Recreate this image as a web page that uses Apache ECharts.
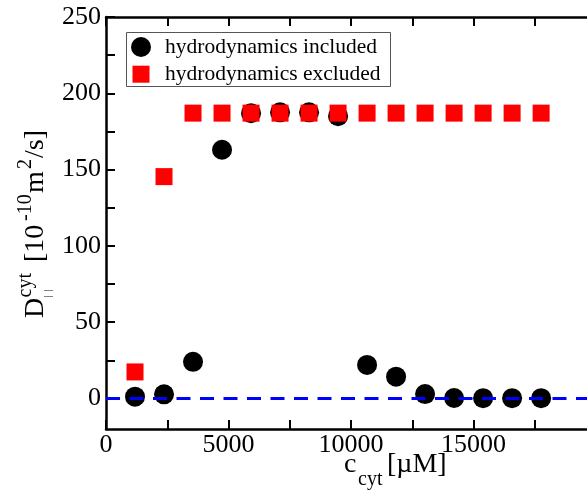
<!DOCTYPE html>
<html>
<head>
<meta charset="utf-8">
<script src="https://cdn.jsdelivr.net/npm/echarts@6/dist/echarts.min.js"></script>
<style>
  html, body { margin: 0; padding: 0; background: #fff; }
  #chart { width: 587px; height: 491px; }
</style>
</head>
<body>
<div id="chart"></div>
<script>
// Cytoplasmic concentration (µM) of each simulation
const concentration = [1184, 2368, 3552, 4736, 5920, 7104, 8288, 9472, 10656, 11840, 13024, 14208, 15392, 16576, 17760];
// Parallel diffusion coefficient, 10^-10 m^2/s
const withHydro = [1.2, 2.7, 24, 163, 187, 187.5, 187.5, 185, 22, 14.3, 2.9, 0.3, 0.2, 0.2, 0.2];
const withoutHydro = [17.4, 145.4, 187, 187, 187, 187, 187, 187, 187, 187, 187, 187, 187, 187, 187];
// Zero reference line
const zeroLine = [[0, 0], [20000, 0]];

const seriesNames = ['hydrodynamics included', 'hydrodynamics excluded'];

// Axis ticks and labels
const xTicks = [0, 2500, 5000, 7500, 10000, 12500, 15000, 17500, 20000];
const xLabels = [0, 5000, 10000, 15000];
const yTicks = [0, 25, 50, 75, 100, 125, 150, 175, 200, 225, 250];
const yLabels = [0, 50, 100, 150, 200, 250];

const SERIF = '"Liberation Serif", "Times New Roman", serif';

const pairs = (xs, ys) => xs.map((x, i) => [x, ys[i]]);

const axisLine = { show: true, onZero: false, lineStyle: { color: '#000', width: 2.5 } };
const tick = (values) => ({ show: true, inside: true, length: 9, customValues: values, lineStyle: { color: '#000', width: 2 } });
const plain = (v) => String(v);

const chart = echarts.init(document.getElementById('chart'), null, { renderer: 'canvas' });

// helper for pieces of axis titles
function txt(text, x, y, size) {
  return {
    type: 'text', x: x, y: y,
    style: { text: text, fontFamily: SERIF, fontSize: size, fill: '#000', align: 'left', verticalAlign: 'middle' }
  };
}

chart.setOption({
  animation: false,
  backgroundColor: '#fff',
  textStyle: { fontFamily: SERIF, color: '#000' },
  grid: { left: 106, top: 17, width: 490, height: 412, outerBoundsMode: 'none', containLabel: false },
  xAxis: [
    {
      type: 'value', position: 'bottom', min: 0, max: 20000,
      axisLine: axisLine, axisTick: tick(xTicks),
      axisLabel: { customValues: xLabels, formatter: plain, fontFamily: SERIF, fontSize: 26, color: '#000', margin: 3 },
      splitLine: { show: false }
    },
    {
      type: 'value', position: 'top', min: 0, max: 20000,
      axisLine: axisLine, axisTick: tick(xTicks),
      axisLabel: { show: false }, splitLine: { show: false }
    }
  ],
  yAxis: [
    {
      type: 'value', position: 'left', min: -20, max: 250,
      axisLine: axisLine, axisTick: tick(yTicks),
      axisLabel: { customValues: yLabels, formatter: plain, fontFamily: SERIF, fontSize: 26, color: '#000', margin: 5 },
      splitLine: { show: false }
    },
    {
      type: 'value', position: 'right', min: -20, max: 250,
      axisLine: axisLine, axisTick: tick(yTicks),
      axisLabel: { show: false }, splitLine: { show: false }
    }
  ],
  legend: [
    {
      data: [seriesNames[0]], orient: 'vertical', left: 131, top: 36, padding: 0,
      itemWidth: 20, itemHeight: 20, selectedMode: false,
      textStyle: { fontFamily: SERIF, fontSize: 21.5, color: '#000', padding: [0, 0, 0, 9] }
    },
    {
      data: [seriesNames[1]], orient: 'vertical', left: 132.5, top: 63.2, padding: 0,
      itemWidth: 17, itemHeight: 17, selectedMode: false,
      textStyle: { fontFamily: SERIF, fontSize: 21.5, color: '#000', padding: [0, 0, 0, 10.5] }
    }
  ],
  series: [
    {
      name: seriesNames[0], type: 'scatter', symbol: 'circle', symbolSize: 20,
      itemStyle: { color: '#000', opacity: 1 },
      data: pairs(concentration, withHydro), z: 3
    },
    {
      name: seriesNames[1], type: 'scatter', symbol: 'rect', symbolSize: 17,
      itemStyle: { color: '#ff0000', opacity: 1 },
      data: pairs(concentration, withoutHydro), z: 4
    },
    {
      name: 'zero', type: 'line', data: zeroLine, symbol: 'none', silent: true,
      lineStyle: { color: '#0000ff', width: 3, type: [14, 9.5] }, z: 5
    }
  ],
  graphic: [
    // legend frame
    {
      type: 'rect', shape: { x: 126.5, y: 32.5, width: 264, height: 54 },
      style: { fill: 'none', stroke: '#555', lineWidth: 1 }, z: 10
    },
    // x-axis title: c_cyt [µM]
    txt('c', 344, 464.5, 28),
    txt('cyt', 358, 479.5, 20),
    txt('[\u00b5M]', 387, 464.5, 28),
    // y-axis title: D_||^cyt [10^-10 m^2/s], reading upwards
    {
      type: 'group', x: 45, y: 318, rotation: Math.PI / 2,
      children: [
        txt('D', 0, -9.5, 28),
        txt('|', 20.5, 3.6, 10),
        txt('|', 26.5, 3.6, 10),
        txt('cyt', 20.5, -18.8, 20),
        txt('[10', 56, -9.5, 28),
        txt('-10', 97, -18.8, 20),
        txt('m', 125, -9.5, 28),
        txt('2', 149, -18.8, 20),
        txt('/s]', 160, -9.5, 28)
      ]
    }
  ]
});
</script>
</body>
</html>
